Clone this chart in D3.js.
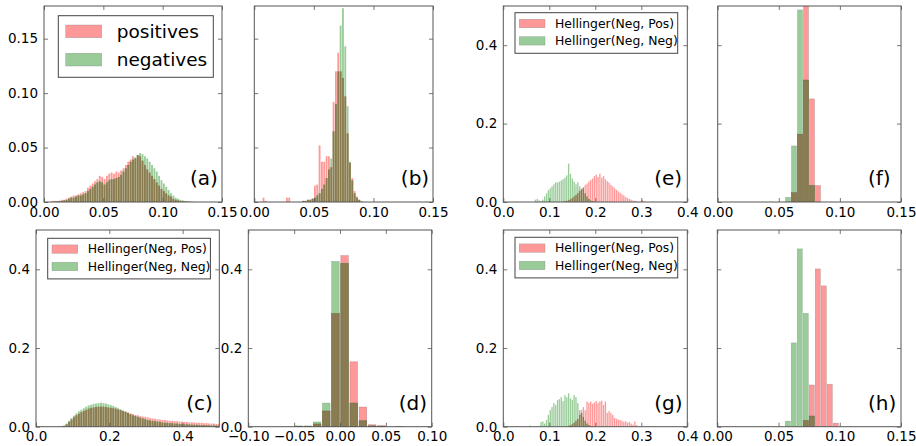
<!DOCTYPE html>
<html><head><meta charset="utf-8">
<script src="https://cdn.jsdelivr.net/npm/d3@7"></script>
<style>
body{margin:0;background:#fff}
svg{display:block}
text{font-family:"DejaVu Sans",sans-serif;fill:#000}
</style>
</head><body>
<svg id="chart" width="916" height="446"></svg>
<script>
// ---------------- DATA ----------------
// (a) positives / negatives, bins of 0.002 starting at 0.004
const aStart = 0.004, aWidth = 0.002;
const aPositives = [0,0.001,0.001,0.001,0.001,0.002,0.002,0.003,0.004,0.005,0.006,0.006,0.007,0.008,0.009,0.010,0.013,0.015,0.017,0.019,0.021,0.024,0.023,0.021,0.024,0.026,0.027,0.026,0.028,0.027,0.029,0.031,0.034,0.037,0.039,0.042,0.040,0.043,0.042,0.038,0.034,0.030,0.027,0.024,0.021,0.018,0.015,0.012,0.010,0.008,0.006,0.005,0.003,0.002,0.0015,0.001,0.0007,0.0005,0.0003,0.0002,0.0001,0,0];
const aNegatives = [0,0,0.0005,0.0005,0.001,0.001,0.0015,0.002,0.003,0.004,0.004,0.005,0.006,0.006,0.007,0.008,0.010,0.012,0.014,0.016,0.018,0.019,0.018,0.016,0.018,0.020,0.021,0.021,0.022,0.023,0.025,0.028,0.031,0.034,0.037,0.039,0.041,0.043,0.045,0.044,0.042,0.040,0.037,0.034,0.031,0.028,0.024,0.020,0.017,0.014,0.011,0.008,0.006,0.004,0.003,0.002,0.0015,0.001,0.0006,0.0004,0.0002,0.0001,0];

// (b) bins of 0.00196 starting at 0.0009
const bStart = 0.0009, bWidth = 0.00196;
const bPositives = [0,0,0,0.004,0.001,0,0,0,0,0,0,0,0,0.004,0.004,0,0,0,0,0,0.001,0.001,0.002,0.002,0.003,0.015,0.016,0.052,0.037,0.037,0.042,0.042,0.032,0.092,0.12,0.137,0.12,0.114,0.097,0.063,0.036,0.022,0.01,0.005,0.002,0,0];
const bNegatives = [0,0,0,0,0,0,0,0,0,0,0,0,0,0,0,0,0,0,0,0,0.001,0.001,0.002,0.002,0.003,0.004,0.006,0.008,0.012,0.016,0.022,0.03,0.04,0.065,0.09,0.12,0.162,0.178,0.143,0.088,0.037,0.02,0.008,0.004,0.002,0.001,0];

// (c) Hellinger, bins of 0.0067 starting at 0.06
const cStart = 0.06, cWidth = 0.0067;
const cNegPos = [0,0.001,0.002,0.006,0.012,0.018,0.024,0.029,0.033,0.037,0.040,0.043,0.046,0.048,0.049,0.050,0.051,0.051,0.051,0.050,0.049,0.048,0.047,0.046,0.044,0.042,0.040,0.038,0.036,0.034,0.032,0.030,0.029,0.027,0.026,0.025,0.024,0.022,0.021,0.020,0.019,0.018,0.017,0.017,0.016,0.015,0.015,0.014,0.014,0.013,0.013,0.012,0.012,0.011,0.011,0.011,0.010,0.010,0.010,0.009,0.009,0.008,0.008,0.008,0.007,0.007];
const cNegNeg = [0,0.001,0.003,0.008,0.015,0.022,0.028,0.034,0.039,0.043,0.047,0.051,0.054,0.056,0.058,0.059,0.060,0.061,0.060,0.059,0.057,0.055,0.053,0.050,0.047,0.044,0.041,0.038,0.035,0.032,0.029,0.027,0.025,0.023,0.021,0.019,0.017,0.016,0.015,0.014,0.013,0.012,0.011,0.010,0.010,0.009,0.009,0.008,0.008,0.007,0.007,0.006,0.006,0.006,0.005,0.005,0.005,0.004,0.004,0.004,0.004,0.003,0.003,0.003,0.003,0.002];

// (d) bins of 0.01 starting at -0.05
const dStart = -0.05, dWidth = 0.01;
const dNegPos = [0.001,0.001,0.007,0.04,0.288,0.435,0.165,0.05,0.005,0.003,0,0];
const dNegNeg = [0.002,0.002,0.012,0.06,0.42,0.415,0.06,0.015,0.002,0.001,0,0.001];

// (e) bins of 0.004 starting at 0.068
const eStart = 0.068, eWidth = 0.004;
const eNegPos = [0,0,0,0,0,0,0,0,0,0,0,0,0,0,0,0.001,0.002,0.003,0.005,0.007,0.01,0.014,0.018,0.023,0.028,0.034,0.038,0.043,0.047,0.052,0.056,0.06,0.066,0.07,0.064,0.072,0.062,0.066,0.058,0.053,0.05,0.044,0.04,0.035,0.031,0.027,0.024,0.02,0.017,0.013,0.01,0.008,0.006,0.004,0.003,0.002,0.001,0,0.005,0.001];
const eNegNeg = [0.006,0.008,0.004,0.002,0.006,0.014,0.022,0.03,0.035,0.04,0.045,0.05,0.05,0.052,0.055,0.058,0.062,0.068,0.098,0.072,0.06,0.052,0.045,0.05,0.04,0.032,0.035,0.022,0.014,0.008,0.004,0.002,0.001];

// (f) bins of 0.0049 starting at 0.0551
const fStart = 0.0551, fWidth = 0.0049;
const fNegPos = [0,0.024,0.173,0.51,0.263,0.042];
const fNegNeg = [0.012,0.143,0.49,0.311,0.042,0];

// (g) bins of 0.004 starting at 0.056
const gStart = 0.056, gWidth = 0.004;
const gNegPos = [0,0,0,0,0,0,0,0,0,0,0,0,0,0,0,0,0,0,0,0,0,0.002,0.004,0.006,0.01,0.015,0.02,0.03,0.042,0.05,0.042,0.064,0.06,0.064,0.058,0.062,0.065,0.06,0.064,0.066,0.055,0.064,0.035,0.04,0.035,0.03,0.022,0.02,0.018,0.017,0.015,0.012,0.014,0.01,0.012,0.008,0.005,0.013,0.004];
const gNegNeg = [0.003,0,0,0,0,0.002,0.012,0.013,0.008,0.017,0.03,0.042,0.05,0.06,0.055,0.068,0.07,0.075,0.065,0.08,0.075,0.085,0.072,0.068,0.08,0.075,0.06,0.042,0.035,0.025,0.015,0.008,0.004,0.002,0.001];

// (h) bins of 0.0049 starting at 0.0551
const hStart = 0.0551, hWidth = 0.0049;
const hNegPos = [0,0,0,0.016,0.106,0.401,0.358,0.108,0.009];
const hNegNeg = [0.014,0.213,0.452,0.288,0.027,0,0,0,0];

// tick values
const xTicks015 = [0, 0.05, 0.10, 0.15];
const xTicks04 = [0, 0.1, 0.2, 0.3, 0.4];
const xTicks05 = [0, 0.2, 0.4];
const xTicksD = [-0.10, -0.05, 0, 0.05, 0.10];
const yTicksA = [0, 0.05, 0.10, 0.15];
const yTicksH = [0, 0.2, 0.4];

const legendAB = ["positives", "negatives"];
const legendH = ["Hellinger(Neg, Pos)", "Hellinger(Neg, Neg)"];

// ---------------- STYLE / LAYOUT ----------------
const RED = "#ff9999", GREEN = "#99cc99", BOTH = "#8b7b50";
const panels = [
  {lab:"(a)", l:44, r:222, t:6, b:202, xd:[0,0.15], yd:[0,0.18], xt:xTicks015, xf:".2f", yt:yTicksA, yf:".2f", showY:true,
   start:aStart, w:aWidth, red:aPositives, green:aNegatives, gap:0.5, legend:"big"},
  {lab:"(b)", l:254.3, r:433, t:6, b:202, xd:[0,0.15], yd:[0,0.18], xt:xTicks015, xf:".2f", yt:yTicksA, yf:".2f", showY:false,
   start:bStart, w:bWidth, red:bPositives, green:bNegatives, gap:0.5},
  {lab:"(e)", l:503.3, r:687.3, t:6, b:202, xd:[0,0.4], yd:[0,0.5], xt:xTicks04, xf:".1f", yt:yTicksH, yf:".1f", showY:true,
   start:eStart, w:eWidth, red:eNegPos, green:eNegNeg, gap:0.5, legend:"small", lx:515, ly:12.7},
  {lab:"(f)", l:717.7, r:901, t:6, b:202, xd:[0,0.15], yd:[0,0.5], xt:xTicks015, xf:".2f", yt:yTicksH, yf:".1f", showY:false,
   start:fStart, w:fWidth, red:fNegPos, green:fNegNeg, gap:1},
  {lab:"(c)", l:36, r:219.3, t:230, b:426.7, xd:[0,0.5], yd:[0,0.5], xt:xTicks05, xf:".1f", yt:yTicksH, yf:".1f", showY:true,
   start:cStart, w:cWidth, red:cNegPos, green:cNegNeg, gap:0.5, legend:"small", lx:47.7, ly:238.3},
  {lab:"(d)", l:248.3, r:431.7, t:230, b:426.7, xd:[-0.1,0.1], yd:[0,0.5], xt:xTicksD, xf:".2f", yt:yTicksH, yf:".1f", showY:true,
   start:dStart, w:dWidth, red:dNegPos, green:dNegNeg, gap:1.6},
  {lab:"(g)", l:503.3, r:687.3, t:230, b:426.7, xd:[0,0.4], yd:[0,0.5], xt:xTicks04, xf:".1f", yt:yTicksH, yf:".1f", showY:true,
   start:gStart, w:gWidth, red:gNegPos, green:gNegNeg, gap:0.5, legend:"small", lx:515, ly:237.3},
  {lab:"(h)", l:717.3, r:901, t:230, b:426.7, xd:[0,0.15], yd:[0,0.5], xt:xTicks015, xf:".2f", yt:yTicksH, yf:".1f", showY:false,
   start:hStart, w:hWidth, red:hNegPos, green:hNegNeg, gap:1}
];

const svg = d3.select("#chart");
const defs = svg.append("defs");

panels.forEach((p, pi) => {
  const x = d3.scaleLinear().domain(p.xd).range([p.l, p.r]);
  const y = d3.scaleLinear().domain(p.yd).range([p.b, p.t]);
  const g = svg.append("g");
  const cid = "clip" + pi;
  defs.append("clipPath").attr("id", cid).append("rect")
    .attr("x", p.l).attr("y", p.t).attr("width", p.r - p.l).attr("height", p.b - p.t);
  const bars = g.append("g").attr("clip-path", `url(#${cid})`);
  const n = Math.max(p.red.length, p.green.length);
  const idx = d3.range(n);
  const edge = i => p.start + i * p.w;
  const bx = i => x(edge(i)) + p.gap / 2;
  const bw = i => Math.max(0.6, x(edge(i + 1)) - x(edge(i)) - p.gap);
  const val = (arr, i) => arr[i] || 0;
  const drawSet = (fn, color, stroke) => {
    bars.selectAll(null).data(idx.filter(i => fn(i) > 0)).join("rect")
      .attr("x", bx).attr("width", bw)
      .attr("y", i => y(fn(i))).attr("height", i => y(0) - y(fn(i)))
      .attr("fill", color)
      .attr("stroke", stroke).attr("stroke-width", p.gap >= 1 ? 0.6 : 0);
  };
  drawSet(i => val(p.red, i), RED, "rgba(150,110,110,0.5)");
  drawSet(i => val(p.green, i), GREEN, "rgba(110,140,110,0.5)");
  drawSet(i => Math.min(val(p.red, i), val(p.green, i)), BOTH, "rgba(90,80,50,0.5)");

  // axes (ticks inside on all four sides)
  const fx = d3.format(p.xf), fy = d3.format(p.yf);
  const ax = g.append("g").attr("transform", `translate(0,${p.b})`)
    .call(d3.axisBottom(x).tickValues(p.xt).tickFormat(fx).tickSize(-4).tickPadding(5));
  const at = g.append("g").attr("transform", `translate(0,${p.t})`)
    .call(d3.axisTop(x).tickValues(p.xt).tickFormat("").tickSize(-4));
  const ay = g.append("g").attr("transform", `translate(${p.l},0)`)
    .call(d3.axisLeft(y).tickValues(p.yt).tickFormat(p.showY ? fy : "").tickSize(-4).tickPadding(6));
  const ar = g.append("g").attr("transform", `translate(${p.r},0)`)
    .call(d3.axisRight(y).tickValues(p.yt).tickFormat("").tickSize(-4));
  [ax, at, ay, ar].forEach(a => {
    a.select(".domain").remove();
    a.selectAll(".tick line").attr("stroke", "#555").attr("stroke-width", 0.8);
    a.selectAll("text").style("font-size", "13.5px").attr("fill", "#000")
      .style("font-family", '"DejaVu Sans", sans-serif');
  });

  g.append("rect").attr("x", p.l).attr("y", p.t).attr("width", p.r - p.l).attr("height", p.b - p.t)
    .attr("fill", "none").attr("stroke", "#555").attr("stroke-width", 1);

  // panel label
  g.append("text").attr("x", p.l + 0.82 * (p.r - p.l)).attr("y", p.b - 17)
    .style("font-size", "20px").text(p.lab);

  // legends
  if (p.legend === "big") {
    const lg = g.append("g");
    lg.append("rect").attr("x", 58.3).attr("y", 15.7).attr("width", 155).attr("height", 61.6)
      .attr("fill", "#fff").attr("stroke", "#444").attr("stroke-width", 1);
    [RED, GREEN].forEach((c, k) => {
      lg.append("rect").attr("x", 65.7).attr("y", 25 + k * 28.3).attr("width", 36).attr("height", 12.7)
        .attr("fill", c).attr("stroke", "rgba(120,120,120,0.5)").attr("stroke-width", 0.6);
      lg.append("text").attr("x", 116.7).attr("y", 38 + k * 28.3).style("font-size", "18.5px").text(legendAB[k]);
    });
  } else if (p.legend === "small") {
    const lg = g.append("g");
    lg.append("rect").attr("x", p.lx).attr("y", p.ly).attr("width", 162.7).attr("height", 40.6)
      .attr("fill", "#fff").attr("stroke", "#444").attr("stroke-width", 1);
    [RED, GREEN].forEach((c, k) => {
      lg.append("rect").attr("x", p.lx + 4.3).attr("y", p.ly + 6.6 + k * 17.4).attr("width", 25.7).attr("height", 8.4)
        .attr("fill", c).attr("stroke", "rgba(120,120,120,0.5)").attr("stroke-width", 0.6);
      lg.append("text").attr("x", p.lx + 40).attr("y", p.ly + 15 + k * 17.4).style("font-size", "12.4px").text(legendH[k]);
    });
  }
});
</script>
</body></html>
